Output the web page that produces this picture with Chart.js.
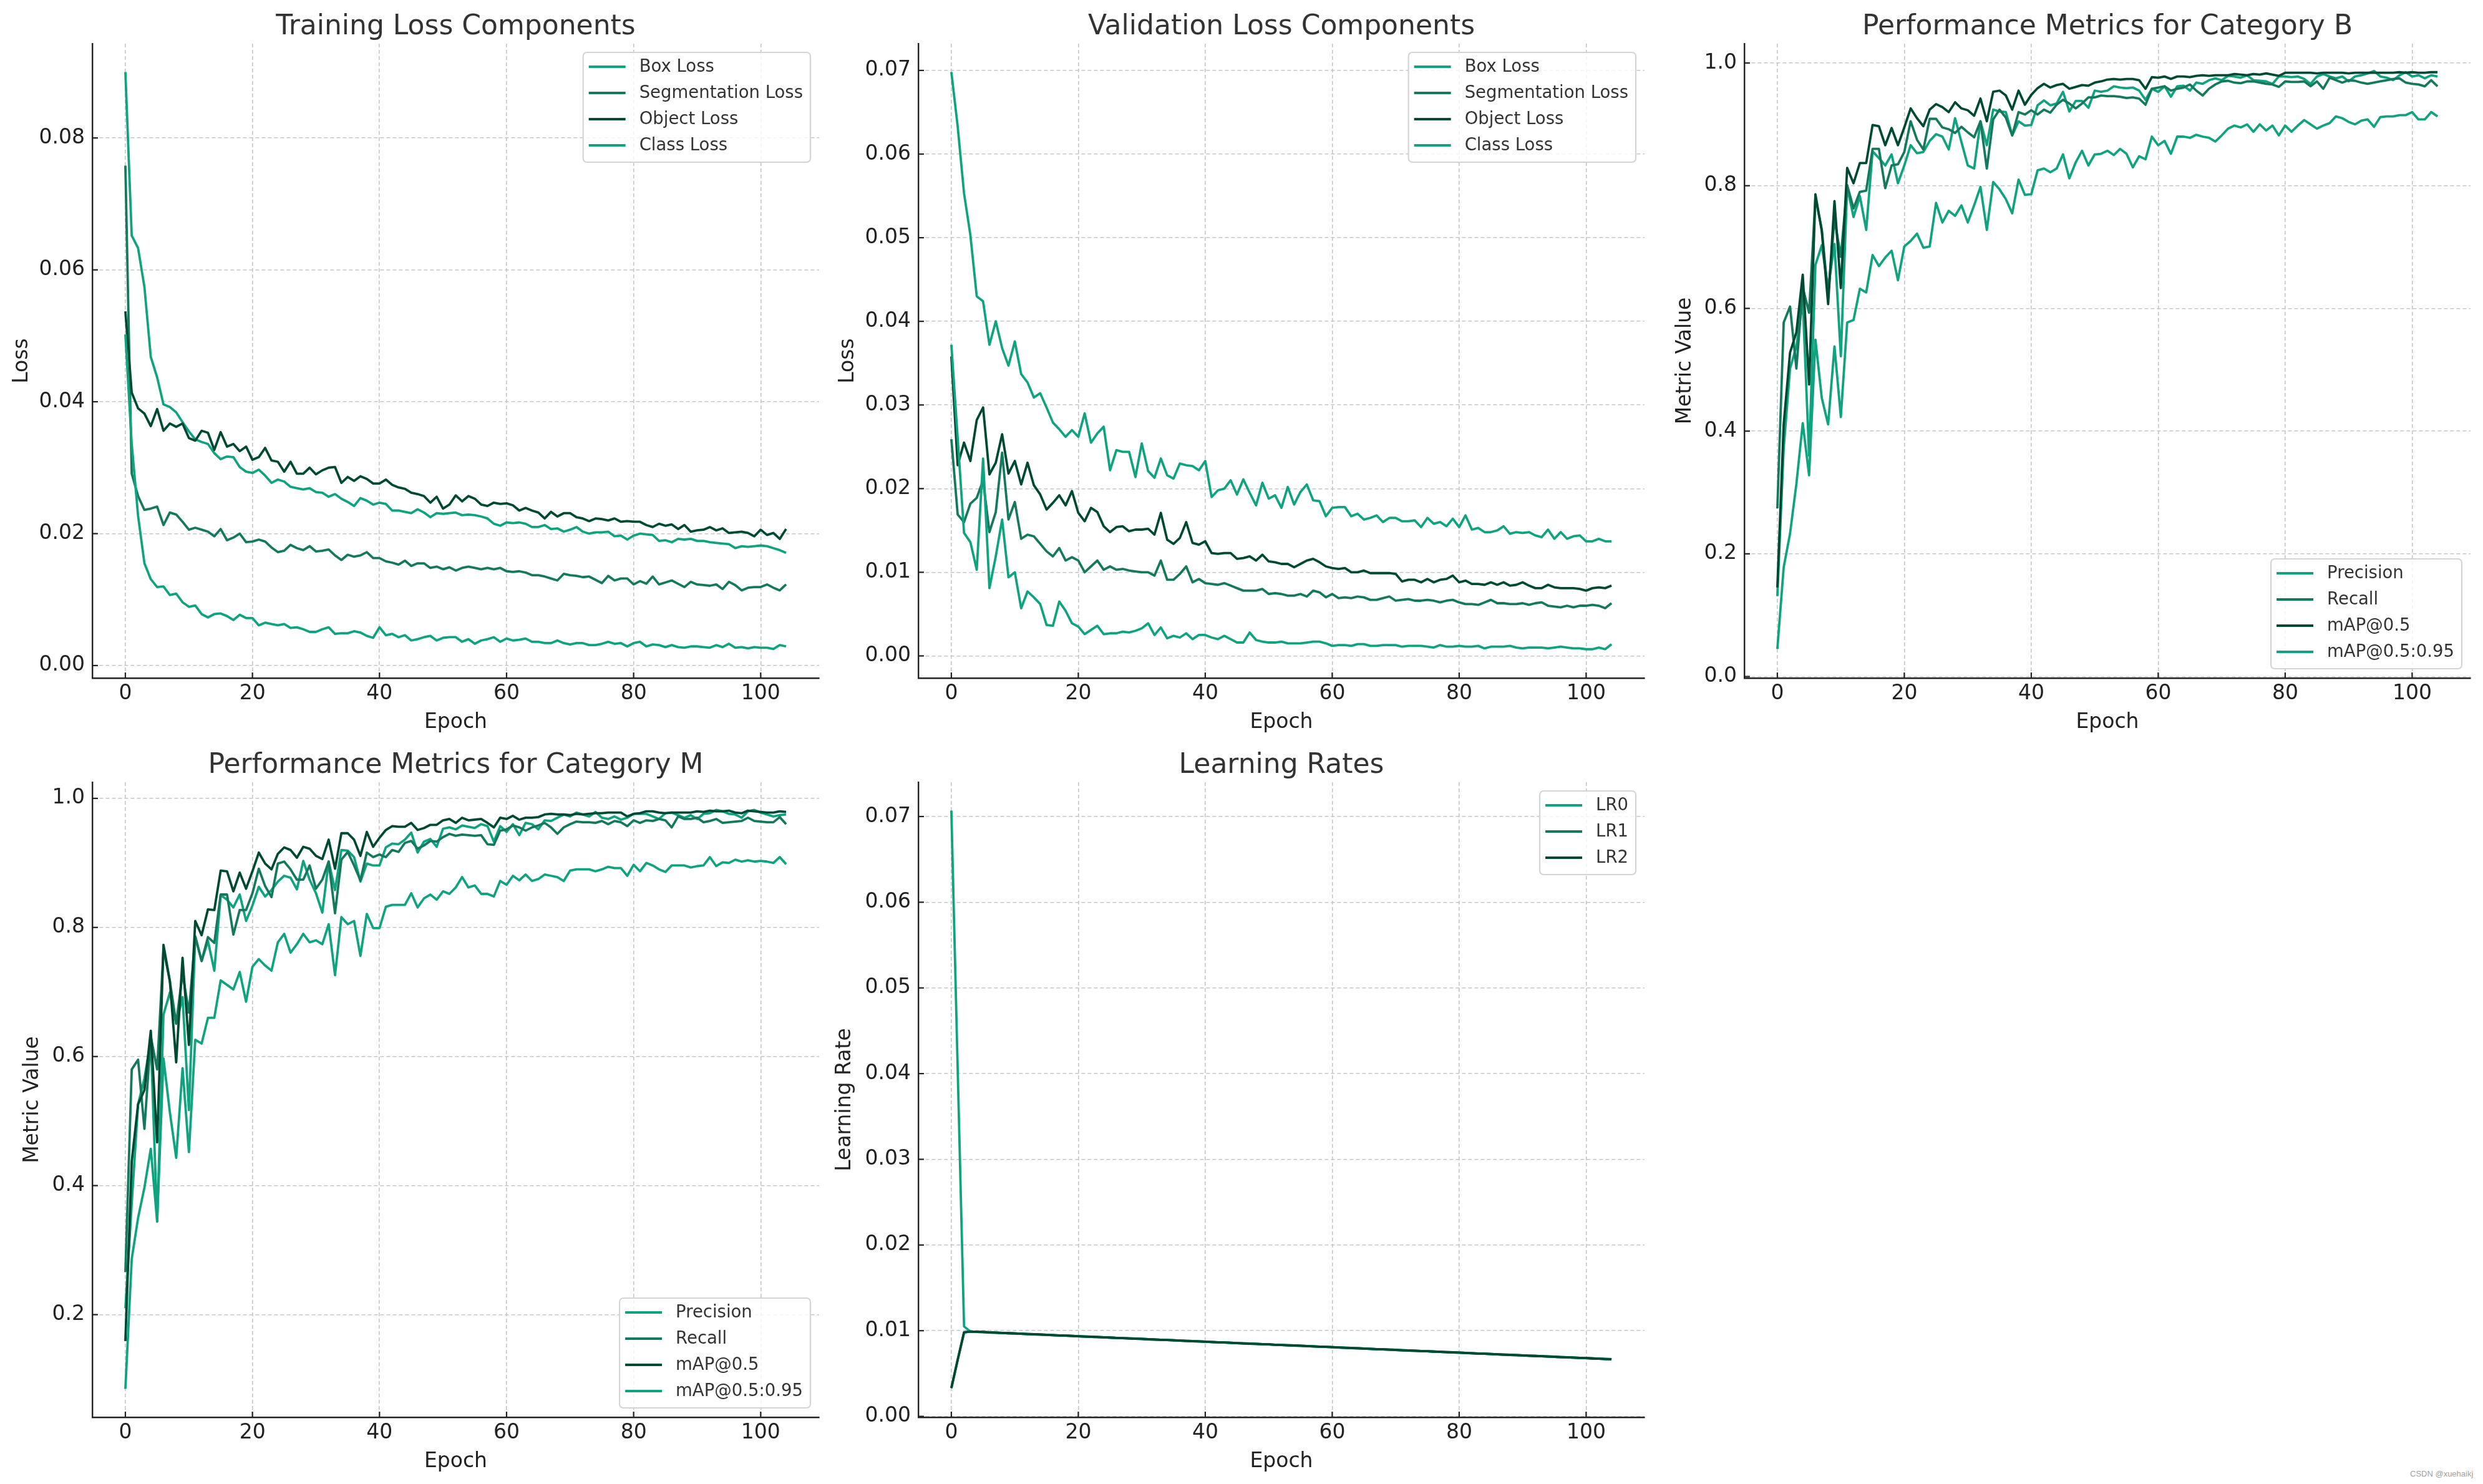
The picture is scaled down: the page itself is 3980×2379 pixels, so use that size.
<!DOCTYPE html>
<html lang="en">
<head>
<meta charset="UTF-8">
<title>Training results</title>
<script src="https://cdn.jsdelivr.net/npm/chart.js"></script>
<style>
  html, body { margin: 0; padding: 0; background: #fff; }
  body { width: 3980px; height: 2379px; position: relative; overflow: hidden; }
  canvas { position: absolute; }
  #mark { position: absolute; left: 3863px; top: 2355px; font: 13px "Liberation Sans", Arial, sans-serif; color: #a0a0a0; }
</style>
</head>
<body>
<canvas id="trainLoss"></canvas>
<canvas id="valLoss"></canvas>
<canvas id="catB"></canvas>
<canvas id="catM"></canvas>
<canvas id="lrChart"></canvas>
<div id="mark">CSDN @xuehaikj</div>
<script>
// epochs 0..104
const epochs = Array.from({length: 105}, (_, i) => i);
const xTicks = [0, 20, 40, 60, 80, 100];
const lossTicks = [0, 0.02, 0.04, 0.06, 0.08];
const valTicks = [0, 0.01, 0.02, 0.03, 0.04, 0.05, 0.06, 0.07];
const metricTicksB = [0, 0.2, 0.4, 0.6, 0.8, 1.0];
const metricTicksM = [0.2, 0.4, 0.6, 0.8, 1.0];
const lrTicks = [0, 0.01, 0.02, 0.03, 0.04, 0.05, 0.06, 0.07];

const lossNames = ['Box Loss', 'Segmentation Loss', 'Object Loss', 'Class Loss'];
const metricNames = ['Precision', 'Recall', 'mAP@0.5', 'mAP@0.5:0.95'];
const lrNames = ['LR0', 'LR1', 'LR2'];

// training losses
const trainBox = [
  0.0900, 0.0652, 0.0633, 0.0574, 0.0468, 0.0437, 0.0396, 0.0392, 0.0384, 0.0369,
  0.0355, 0.0343, 0.0339, 0.0336, 0.0322, 0.0313, 0.0317, 0.0316, 0.0301, 0.0294,
  0.0292, 0.0297, 0.0288, 0.0277, 0.0282, 0.0279, 0.0271, 0.0269, 0.0267, 0.0269,
  0.0263, 0.0262, 0.0256, 0.0260, 0.0253, 0.0248, 0.0242, 0.0254, 0.0250, 0.0244,
  0.0247, 0.0245, 0.0235, 0.0235, 0.0233, 0.0231, 0.0237, 0.0232, 0.0225, 0.0231,
  0.0230, 0.0231, 0.0232, 0.0228, 0.0229, 0.0228, 0.0226, 0.0223, 0.0215, 0.0212,
  0.0217, 0.0216, 0.0217, 0.0215, 0.0210, 0.0210, 0.0213, 0.0207, 0.0208, 0.0203,
  0.0206, 0.0210, 0.0203, 0.0200, 0.0202, 0.0202, 0.0203, 0.0196, 0.0197, 0.0191,
  0.0197, 0.0200, 0.0199, 0.0198, 0.0189, 0.0190, 0.0187, 0.0192, 0.0191, 0.0192,
  0.0189, 0.0189, 0.0187, 0.0186, 0.0185, 0.0184, 0.0178, 0.0181, 0.0180, 0.0181,
  0.0182, 0.0181, 0.0178, 0.0175, 0.0171
];
const trainSeg = [
  0.0758, 0.0291, 0.0257, 0.0236, 0.0238, 0.0241, 0.0213, 0.0232, 0.0229, 0.0218,
  0.0206, 0.0209, 0.0206, 0.0203, 0.0196, 0.0207, 0.0190, 0.0194, 0.0200, 0.0187,
  0.0188, 0.0191, 0.0188, 0.0179, 0.0172, 0.0174, 0.0183, 0.0178, 0.0175, 0.0181,
  0.0173, 0.0174, 0.0176, 0.0167, 0.0160, 0.0168, 0.0165, 0.0167, 0.0172, 0.0163,
  0.0163, 0.0158, 0.0156, 0.0153, 0.0159, 0.0151, 0.0155, 0.0155, 0.0148, 0.0150,
  0.0146, 0.0149, 0.0144, 0.0148, 0.0150, 0.0148, 0.0146, 0.0148, 0.0146, 0.0148,
  0.0143, 0.0142, 0.0143, 0.0141, 0.0137, 0.0137, 0.0135, 0.0132, 0.0129, 0.0139,
  0.0137, 0.0136, 0.0134, 0.0135, 0.0130, 0.0125, 0.0136, 0.0129, 0.0132, 0.0132,
  0.0123, 0.0128, 0.0124, 0.0135, 0.0123, 0.0126, 0.0129, 0.0124, 0.0119, 0.0127,
  0.0123, 0.0122, 0.0121, 0.0123, 0.0116, 0.0127, 0.0122, 0.0114, 0.0118, 0.0119,
  0.0119, 0.0123, 0.0118, 0.0114, 0.0123
];
const trainObj = [
  0.0537, 0.0414, 0.0390, 0.0382, 0.0363, 0.0389, 0.0356, 0.0367, 0.0362, 0.0367,
  0.0345, 0.0341, 0.0356, 0.0353, 0.0327, 0.0354, 0.0332, 0.0336, 0.0325, 0.0332,
  0.0312, 0.0316, 0.0330, 0.0311, 0.0309, 0.0294, 0.0309, 0.0291, 0.0291, 0.0300,
  0.0290, 0.0296, 0.0300, 0.0301, 0.0277, 0.0286, 0.0280, 0.0287, 0.0283, 0.0276,
  0.0276, 0.0282, 0.0274, 0.0270, 0.0268, 0.0262, 0.0260, 0.0257, 0.0247, 0.0256,
  0.0238, 0.0244, 0.0258, 0.0249, 0.0257, 0.0253, 0.0244, 0.0242, 0.0247, 0.0245,
  0.0246, 0.0243, 0.0235, 0.0239, 0.0235, 0.0232, 0.0223, 0.0233, 0.0226, 0.0231,
  0.0231, 0.0225, 0.0223, 0.0219, 0.0223, 0.0222, 0.0220, 0.0223, 0.0218, 0.0219,
  0.0218, 0.0218, 0.0213, 0.0210, 0.0215, 0.0212, 0.0214, 0.0207, 0.0213, 0.0203,
  0.0205, 0.0206, 0.0210, 0.0205, 0.0208, 0.0201, 0.0202, 0.0203, 0.0201, 0.0196,
  0.0206, 0.0198, 0.0201, 0.0192, 0.0207
];
const trainCls = [
  0.0502, 0.0336, 0.0227, 0.0155, 0.0131, 0.0119, 0.0120, 0.0107, 0.0109, 0.0096,
  0.0089, 0.0091, 0.0078, 0.0073, 0.0078, 0.0079, 0.0075, 0.0069, 0.0077, 0.0072,
  0.0072, 0.0061, 0.0065, 0.0063, 0.0061, 0.0063, 0.0057, 0.0058, 0.0055, 0.0051,
  0.0051, 0.0055, 0.0058, 0.0048, 0.0049, 0.0049, 0.0052, 0.0050, 0.0045, 0.0042,
  0.0058, 0.0046, 0.0048, 0.0043, 0.0046, 0.0038, 0.0040, 0.0043, 0.0045, 0.0038,
  0.0042, 0.0043, 0.0043, 0.0036, 0.0040, 0.0033, 0.0038, 0.0040, 0.0043, 0.0036,
  0.0041, 0.0038, 0.0039, 0.0041, 0.0036, 0.0036, 0.0034, 0.0034, 0.0038, 0.0034,
  0.0032, 0.0034, 0.0034, 0.0031, 0.0031, 0.0033, 0.0036, 0.0033, 0.0034, 0.0029,
  0.0034, 0.0036, 0.0029, 0.0032, 0.0031, 0.0028, 0.0031, 0.0028, 0.0027, 0.0029,
  0.0029, 0.0028, 0.0027, 0.0031, 0.0028, 0.0033, 0.0027, 0.0028, 0.0026, 0.0028,
  0.0027, 0.0027, 0.0025, 0.0031, 0.0029
];

// validation losses
const valBox = [
  0.0698, 0.0633, 0.0553, 0.0503, 0.0430, 0.0424, 0.0372, 0.0400, 0.0368, 0.0347,
  0.0376, 0.0337, 0.0327, 0.0309, 0.0314, 0.0297, 0.0279, 0.0271, 0.0262, 0.0270,
  0.0262, 0.0290, 0.0255, 0.0266, 0.0274, 0.0222, 0.0246, 0.0244, 0.0244, 0.0214,
  0.0254, 0.0221, 0.0213, 0.0236, 0.0216, 0.0212, 0.0230, 0.0228, 0.0227, 0.0222,
  0.0233, 0.0190, 0.0198, 0.0200, 0.0210, 0.0193, 0.0211, 0.0195, 0.0180, 0.0207,
  0.0188, 0.0192, 0.0177, 0.0202, 0.0181, 0.0196, 0.0205, 0.0186, 0.0185, 0.0167,
  0.0177, 0.0178, 0.0178, 0.0167, 0.0170, 0.0163, 0.0165, 0.0168, 0.0160, 0.0165,
  0.0165, 0.0161, 0.0161, 0.0162, 0.0154, 0.0165, 0.0158, 0.0160, 0.0155, 0.0164,
  0.0154, 0.0168, 0.0151, 0.0153, 0.0148, 0.0148, 0.0150, 0.0155, 0.0146, 0.0148,
  0.0147, 0.0148, 0.0144, 0.0142, 0.0151, 0.0140, 0.0148, 0.0140, 0.0143, 0.0144,
  0.0137, 0.0137, 0.0140, 0.0137, 0.0137
];
const valSeg = [
  0.0259, 0.0169, 0.0160, 0.0182, 0.0189, 0.0210, 0.0148, 0.0172, 0.0243, 0.0163,
  0.0184, 0.0140, 0.0145, 0.0143, 0.0134, 0.0125, 0.0119, 0.0129, 0.0114, 0.0118,
  0.0114, 0.0100, 0.0107, 0.0114, 0.0103, 0.0107, 0.0103, 0.0104, 0.0102, 0.0101,
  0.0100, 0.0100, 0.0096, 0.0114, 0.0091, 0.0091, 0.0098, 0.0107, 0.0088, 0.0092,
  0.0087, 0.0086, 0.0085, 0.0087, 0.0084, 0.0081, 0.0078, 0.0078, 0.0078, 0.0080,
  0.0074, 0.0075, 0.0074, 0.0072, 0.0072, 0.0074, 0.0071, 0.0078, 0.0076, 0.0070,
  0.0074, 0.0069, 0.0070, 0.0069, 0.0071, 0.0070, 0.0067, 0.0067, 0.0069, 0.0071,
  0.0066, 0.0067, 0.0068, 0.0066, 0.0066, 0.0067, 0.0066, 0.0064, 0.0066, 0.0067,
  0.0064, 0.0062, 0.0062, 0.0061, 0.0064, 0.0067, 0.0063, 0.0063, 0.0062, 0.0062,
  0.0063, 0.0061, 0.0063, 0.0064, 0.0060, 0.0059, 0.0058, 0.0060, 0.0058, 0.0060,
  0.0060, 0.0061, 0.0060, 0.0057, 0.0063
];
const valObj = [
  0.0358, 0.0228, 0.0255, 0.0233, 0.0282, 0.0297, 0.0217, 0.0231, 0.0265, 0.0218,
  0.0233, 0.0205, 0.0231, 0.0204, 0.0193, 0.0175, 0.0183, 0.0192, 0.0180, 0.0197,
  0.0171, 0.0161, 0.0177, 0.0172, 0.0155, 0.0148, 0.0154, 0.0155, 0.0149, 0.0151,
  0.0151, 0.0152, 0.0145, 0.0171, 0.0139, 0.0134, 0.0141, 0.0160, 0.0135, 0.0133,
  0.0137, 0.0123, 0.0122, 0.0123, 0.0123, 0.0116, 0.0117, 0.0119, 0.0114, 0.0121,
  0.0113, 0.0112, 0.0110, 0.0110, 0.0106, 0.0110, 0.0114, 0.0116, 0.0112, 0.0107,
  0.0105, 0.0104, 0.0105, 0.0100, 0.0100, 0.0102, 0.0099, 0.0099, 0.0099, 0.0099,
  0.0098, 0.0089, 0.0091, 0.0091, 0.0088, 0.0092, 0.0088, 0.0091, 0.0092, 0.0096,
  0.0088, 0.0090, 0.0086, 0.0086, 0.0085, 0.0088, 0.0085, 0.0088, 0.0084, 0.0085,
  0.0088, 0.0084, 0.0081, 0.0081, 0.0085, 0.0082, 0.0081, 0.0081, 0.0081, 0.0080,
  0.0078, 0.0081, 0.0082, 0.0081, 0.0084
];
const valCls = [
  0.0372, 0.0260, 0.0147, 0.0136, 0.0103, 0.0236, 0.0081, 0.0119, 0.0163, 0.0094,
  0.0100, 0.0057, 0.0077, 0.0070, 0.0062, 0.0037, 0.0036, 0.0065, 0.0054, 0.0039,
  0.0035, 0.0026, 0.0031, 0.0036, 0.0026, 0.0027, 0.0027, 0.0029, 0.0028, 0.0030,
  0.0033, 0.0039, 0.0025, 0.0034, 0.0021, 0.0024, 0.0022, 0.0027, 0.0020, 0.0025,
  0.0025, 0.0022, 0.0020, 0.0024, 0.0020, 0.0016, 0.0016, 0.0028, 0.0019, 0.0017,
  0.0016, 0.0016, 0.0017, 0.0015, 0.0015, 0.0015, 0.0016, 0.0017, 0.0017, 0.0015,
  0.0012, 0.0013, 0.0013, 0.0012, 0.0014, 0.0014, 0.0012, 0.0012, 0.0013, 0.0013,
  0.0013, 0.0011, 0.0012, 0.0012, 0.0012, 0.0011, 0.0010, 0.0013, 0.0011, 0.0011,
  0.0012, 0.0011, 0.0011, 0.0012, 0.0009, 0.0011, 0.0011, 0.0011, 0.0012, 0.0010,
  0.0009, 0.0010, 0.0010, 0.0010, 0.0009, 0.0010, 0.0011, 0.0010, 0.0009, 0.0009,
  0.0008, 0.0008, 0.0010, 0.0008, 0.0014
];

// category B metrics
const bPrec = [
  0.131, 0.372, 0.502, 0.538, 0.613, 0.360, 0.671, 0.703, 0.633, 0.705,
  0.522, 0.798, 0.749, 0.783, 0.728, 0.856, 0.845, 0.833, 0.851, 0.804,
  0.833, 0.866, 0.853, 0.855, 0.873, 0.884, 0.880, 0.859, 0.910, 0.871,
  0.833, 0.828, 0.905, 0.866, 0.924, 0.921, 0.920, 0.882, 0.905, 0.898,
  0.899, 0.931, 0.939, 0.931, 0.934, 0.953, 0.921, 0.938, 0.938, 0.927,
  0.955, 0.953, 0.955, 0.962, 0.960, 0.959, 0.960, 0.955, 0.940, 0.958,
  0.953, 0.962, 0.945, 0.962, 0.963, 0.955, 0.968, 0.966, 0.972, 0.975,
  0.972, 0.979, 0.978, 0.976, 0.980, 0.972, 0.971, 0.970, 0.966, 0.978,
  0.978, 0.977, 0.978, 0.974, 0.966, 0.978, 0.982, 0.978, 0.975, 0.978,
  0.970, 0.978, 0.980, 0.983, 0.987, 0.978, 0.976, 0.972, 0.980, 0.985,
  0.978, 0.980, 0.975, 0.980, 0.978
];
const bRec = [
  0.274, 0.577, 0.603, 0.502, 0.634, 0.593, 0.781, 0.729, 0.620, 0.746,
  0.684, 0.801, 0.763, 0.790, 0.792, 0.860, 0.860, 0.796, 0.833, 0.835,
  0.855, 0.905, 0.875, 0.859, 0.909, 0.909, 0.895, 0.892, 0.886, 0.896,
  0.887, 0.879, 0.905, 0.828, 0.908, 0.924, 0.911, 0.882, 0.920, 0.916,
  0.923, 0.916, 0.924, 0.919, 0.932, 0.940, 0.934, 0.926, 0.934, 0.944,
  0.944, 0.947, 0.946, 0.946, 0.945, 0.943, 0.944, 0.942, 0.932, 0.958,
  0.960, 0.962, 0.955, 0.958, 0.960, 0.965, 0.955, 0.947, 0.958, 0.965,
  0.970, 0.971, 0.968, 0.967, 0.970, 0.970, 0.968, 0.966, 0.965, 0.961,
  0.970, 0.969, 0.969, 0.970, 0.962, 0.970, 0.958, 0.976, 0.972, 0.968,
  0.972, 0.971, 0.968, 0.966, 0.968, 0.970, 0.972, 0.974, 0.975, 0.968,
  0.966, 0.965, 0.962, 0.972, 0.962
];
const bMap50 = [
  0.145, 0.411, 0.528, 0.561, 0.655, 0.476, 0.786, 0.726, 0.607, 0.775,
  0.633, 0.829, 0.804, 0.837, 0.837, 0.899, 0.897, 0.866, 0.894, 0.866,
  0.895, 0.926, 0.910, 0.897, 0.924, 0.933, 0.928, 0.920, 0.936, 0.926,
  0.923, 0.914, 0.942, 0.905, 0.953, 0.955, 0.947, 0.924, 0.955, 0.932,
  0.948, 0.959, 0.966, 0.960, 0.964, 0.966, 0.958, 0.961, 0.964, 0.963,
  0.968, 0.970, 0.973, 0.974, 0.973, 0.974, 0.974, 0.972, 0.958, 0.977,
  0.976, 0.978, 0.974, 0.978, 0.978, 0.977, 0.979, 0.980, 0.979, 0.980,
  0.980, 0.980, 0.982, 0.981, 0.980, 0.982, 0.981, 0.983, 0.981, 0.979,
  0.984, 0.984, 0.984, 0.984, 0.984, 0.983, 0.984, 0.984, 0.984, 0.984,
  0.983, 0.984, 0.984, 0.984, 0.984, 0.984, 0.984, 0.984, 0.985, 0.984,
  0.985, 0.984, 0.984, 0.985, 0.985
];
const bMap95 = [
  0.045, 0.178, 0.233, 0.314, 0.413, 0.328, 0.549, 0.454, 0.411, 0.538,
  0.423, 0.577, 0.581, 0.632, 0.626, 0.687, 0.669, 0.683, 0.694, 0.646,
  0.701, 0.710, 0.722, 0.699, 0.701, 0.772, 0.740, 0.759, 0.751, 0.768,
  0.740, 0.768, 0.798, 0.728, 0.806, 0.794, 0.778, 0.755, 0.810, 0.785,
  0.786, 0.825, 0.828, 0.822, 0.828, 0.851, 0.812, 0.838, 0.857, 0.833,
  0.851, 0.852, 0.857, 0.850, 0.860, 0.852, 0.830, 0.848, 0.843, 0.880,
  0.866, 0.873, 0.852, 0.880, 0.880, 0.878, 0.883, 0.880, 0.878, 0.872,
  0.882, 0.893, 0.898, 0.895, 0.900, 0.888, 0.900, 0.890, 0.898, 0.882,
  0.898, 0.888, 0.898, 0.907, 0.900, 0.893, 0.898, 0.902, 0.913, 0.910,
  0.904, 0.900, 0.906, 0.908, 0.896, 0.912, 0.913, 0.913, 0.915, 0.915,
  0.920, 0.908, 0.908, 0.920, 0.913
];

// category M metrics
const mPrec = [
  0.210, 0.372, 0.526, 0.566, 0.625, 0.344, 0.665, 0.699, 0.651, 0.692,
  0.517, 0.786, 0.748, 0.779, 0.733, 0.850, 0.843, 0.831, 0.851, 0.810,
  0.834, 0.863, 0.848, 0.858, 0.871, 0.880, 0.877, 0.859, 0.903, 0.874,
  0.853, 0.823, 0.902, 0.858, 0.920, 0.919, 0.909, 0.871, 0.899, 0.896,
  0.896, 0.924, 0.930, 0.929, 0.936, 0.947, 0.916, 0.933, 0.937, 0.925,
  0.953, 0.955, 0.952, 0.958, 0.956, 0.954, 0.960, 0.957, 0.933, 0.957,
  0.948, 0.960, 0.943, 0.962, 0.960, 0.952, 0.966, 0.965, 0.970, 0.975,
  0.972, 0.978, 0.975, 0.972, 0.979, 0.970, 0.968, 0.972, 0.967, 0.970,
  0.976, 0.976, 0.976, 0.972, 0.968, 0.977, 0.978, 0.974, 0.970, 0.974,
  0.968, 0.976, 0.977, 0.982, 0.980, 0.976, 0.975, 0.970, 0.980, 0.982,
  0.978, 0.975, 0.972, 0.974, 0.975
];
const mRec = [
  0.266, 0.580, 0.595, 0.488, 0.631, 0.580, 0.766, 0.717, 0.651, 0.729,
  0.668, 0.786, 0.748, 0.785, 0.776, 0.851, 0.851, 0.789, 0.827, 0.827,
  0.853, 0.891, 0.864, 0.847, 0.899, 0.902, 0.890, 0.874, 0.874, 0.896,
  0.860, 0.874, 0.902, 0.822, 0.905, 0.917, 0.896, 0.873, 0.916, 0.909,
  0.913, 0.909, 0.920, 0.917, 0.931, 0.934, 0.922, 0.927, 0.934, 0.933,
  0.940, 0.945, 0.942, 0.944, 0.943, 0.942, 0.943, 0.929, 0.928, 0.950,
  0.952, 0.958, 0.955, 0.950, 0.955, 0.958, 0.962, 0.955, 0.945, 0.955,
  0.960, 0.964, 0.963, 0.963, 0.962, 0.965, 0.960, 0.965, 0.963, 0.957,
  0.966, 0.962, 0.966, 0.965, 0.968, 0.966, 0.955, 0.972, 0.968, 0.968,
  0.970, 0.963, 0.965, 0.968, 0.962, 0.963, 0.964, 0.965, 0.970, 0.965,
  0.964, 0.963, 0.963, 0.971, 0.960
];
const mMap50 = [
  0.159, 0.437, 0.526, 0.548, 0.640, 0.467, 0.773, 0.717, 0.591, 0.753,
  0.618, 0.810, 0.788, 0.828, 0.827, 0.888, 0.887, 0.856, 0.885, 0.860,
  0.887, 0.916, 0.899, 0.890, 0.914, 0.924, 0.920, 0.908, 0.925, 0.922,
  0.911, 0.906, 0.936, 0.891, 0.946, 0.946, 0.936, 0.911, 0.948, 0.925,
  0.939, 0.951, 0.957, 0.956, 0.956, 0.962, 0.951, 0.954, 0.959, 0.959,
  0.966, 0.968, 0.962, 0.970, 0.966, 0.967, 0.968, 0.962, 0.955, 0.970,
  0.968, 0.973, 0.967, 0.970, 0.970, 0.971, 0.975, 0.976, 0.975, 0.975,
  0.974, 0.976, 0.975, 0.976, 0.977, 0.977, 0.978, 0.978, 0.978, 0.972,
  0.976, 0.977, 0.980, 0.980, 0.978, 0.977, 0.978, 0.978, 0.978, 0.978,
  0.980, 0.979, 0.981, 0.980, 0.980, 0.981, 0.978, 0.977, 0.981, 0.980,
  0.979, 0.978, 0.978, 0.980, 0.979
];
const mMap95 = [
  0.085, 0.286, 0.350, 0.397, 0.457, 0.345, 0.597, 0.514, 0.443, 0.582,
  0.452, 0.626, 0.620, 0.660, 0.660, 0.718, 0.711, 0.704, 0.731, 0.685,
  0.739, 0.751, 0.741, 0.733, 0.777, 0.790, 0.761, 0.774, 0.790, 0.777,
  0.780, 0.774, 0.805, 0.726, 0.816, 0.805, 0.810, 0.756, 0.821, 0.799,
  0.799, 0.832, 0.835, 0.835, 0.835, 0.853, 0.831, 0.845, 0.851, 0.843,
  0.856, 0.852, 0.862, 0.878, 0.862, 0.865, 0.852, 0.852, 0.848, 0.872,
  0.866, 0.880, 0.873, 0.882, 0.872, 0.875, 0.882, 0.880, 0.878, 0.872,
  0.888, 0.890, 0.890, 0.890, 0.887, 0.890, 0.894, 0.892, 0.892, 0.880,
  0.897, 0.887, 0.900, 0.896, 0.890, 0.886, 0.896, 0.896, 0.896, 0.893,
  0.895, 0.896, 0.909, 0.895, 0.901, 0.900, 0.905, 0.902, 0.904, 0.902,
  0.903, 0.902, 0.900, 0.909, 0.898
];

// learning rates (linear decay after warmup, epochs 3..104)
const lrDecay = [
  0.00990, 0.00987, 0.00984, 0.00980, 0.00977, 0.00974, 0.00971,
  0.00968, 0.00964, 0.00961, 0.00958, 0.00955, 0.00952, 0.00948, 0.00945, 0.00942, 0.00939,
  0.00936, 0.00932, 0.00929, 0.00926, 0.00923, 0.00920, 0.00916, 0.00913, 0.00910, 0.00907,
  0.00904, 0.00900, 0.00897, 0.00894, 0.00891, 0.00888, 0.00884, 0.00881, 0.00878, 0.00875,
  0.00872, 0.00868, 0.00865, 0.00862, 0.00859, 0.00856, 0.00852, 0.00849, 0.00846, 0.00843,
  0.00840, 0.00836, 0.00833, 0.00830, 0.00827, 0.00824, 0.00820, 0.00817, 0.00814, 0.00811,
  0.00808, 0.00804, 0.00801, 0.00798, 0.00795, 0.00792, 0.00788, 0.00785, 0.00782, 0.00779,
  0.00776, 0.00772, 0.00769, 0.00766, 0.00763, 0.00760, 0.00756, 0.00753, 0.00750, 0.00747,
  0.00744, 0.00740, 0.00737, 0.00734, 0.00731, 0.00728, 0.00724, 0.00721, 0.00718, 0.00715,
  0.00712, 0.00708, 0.00705, 0.00702, 0.00699, 0.00696, 0.00692, 0.00689, 0.00686, 0.00683,
  0.00680, 0.00676, 0.00673, 0.00670, 0.00667
];
const lr0 = [0.0707, 0.0405, 0.0105, ...lrDecay];
const lr1 = [0.0033, 0.0066, 0.0098, ...lrDecay];
const lr2 = [0.0033, 0.0066, 0.0098, ...lrDecay];

const colors = ['#10a37f', '#14795d', '#004a33', '#10a37f'];
const gridColor = '#c6c6c6';
const inkColor = '#222222';

Chart.defaults.font.family = '"DejaVu Sans", sans-serif';
Chart.defaults.color = inkColor;

// matplotlib-like legend box inside the axes
const frameLegend = {
  id: 'frameLegend',
  afterDraw(chart, args, opts) {
    const {ctx, chartArea: a} = chart;
    const sets = chart.data.datasets;
    ctx.save();
    ctx.font = '27.5px "DejaVu Sans"';
    const textW = Math.max(...sets.map(d => ctx.measureText(d.label).width));
    const w = 90 + textW + 12;
    const h = 23 + (sets.length - 1) * 42 + 27;
    const x = a.right - 14 - w;
    const y = opts.corner === 'se' ? a.bottom - 15 - h : a.top + 14;
    ctx.beginPath();
    if (ctx.roundRect) ctx.roundRect(x, y, w, h, 6); else ctx.rect(x, y, w, h);
    ctx.fillStyle = 'rgba(255,255,255,0.8)';
    ctx.fill();
    ctx.lineWidth = 2.2;
    ctx.strokeStyle = '#d4d4d4';
    ctx.stroke();
    sets.forEach((d, i) => {
      const cy = y + 23 + i * 42;
      ctx.beginPath();
      ctx.moveTo(x + 9, cy);
      ctx.lineTo(x + 68, cy);
      ctx.strokeStyle = d.borderColor;
      ctx.lineWidth = d.borderWidth;
      ctx.stroke();
      ctx.fillStyle = '#333333';
      ctx.textBaseline = 'middle';
      ctx.fillText(d.label, x + 90, cy + 1);
    });
    ctx.restore();
  }
};

// ticks pointing into the plot, like the reference
const innerTicks = {
  id: 'innerTicks',
  afterDatasetsDraw(chart) {
    const {ctx, chartArea: a, scales: {x, y}} = chart;
    ctx.save();
    ctx.strokeStyle = inkColor;
    ctx.lineWidth = 2.2;
    x.ticks.forEach(t => {
      const px = x.getPixelForValue(t.value);
      ctx.beginPath(); ctx.moveTo(px, a.bottom); ctx.lineTo(px, a.bottom - 9); ctx.stroke();
    });
    y.ticks.forEach(t => {
      const py = y.getPixelForValue(t.value);
      ctx.beginPath(); ctx.moveTo(a.left, py); ctx.lineTo(a.left + 9, py); ctx.stroke();
    });
    ctx.restore();
  }
};

const Y_W = 145, TOP_H = 70, X_H = 110, RIGHT_PAD = 10;

function makeChart(id, area, opt) {
  const canvas = document.getElementById(id);
  canvas.width = area.right - area.left + Y_W + RIGHT_PAD;
  canvas.height = area.bottom - area.top + TOP_H + X_H;
  canvas.style.left = (area.left - Y_W) + 'px';
  canvas.style.top = (area.top - TOP_H) + 'px';

  const datasets = opt.series.map((vals, i) => ({
    label: opt.names[i],
    data: vals.map((v, j) => ({x: epochs[j], y: v})),
    borderColor: colors[i],
    backgroundColor: colors[i],
    borderWidth: 3.8,
    pointRadius: 0,
    tension: 0,
    fill: false,
    borderJoinStyle: 'round',
    order: 10 - i
  }));

  return new Chart(canvas, {
    type: 'line',
    data: {datasets},
    options: {
      responsive: false,
      animation: false,
      devicePixelRatio: 1,
      layout: {padding: {left: 0, right: RIGHT_PAD, top: 0, bottom: 0}},
      scales: {
        x: {
          type: 'linear',
          min: -5.2, max: 109.2,
          afterBuildTicks: s => { s.ticks = xTicks.map(v => ({value: v})); },
          afterFit: s => { s.height = X_H; },
          grid: {color: gridColor, lineWidth: 1.6, drawTicks: false},
          border: {color: inkColor, width: 2.4, dash: [6, 4]},
          ticks: {padding: 6, maxRotation: 0, autoSkip: false, color: inkColor, font: {size: 33}, callback: v => String(v)},
          title: {display: true, text: 'Epoch', color: inkColor, font: {size: 33}, padding: {top: 0, bottom: 19}}
        },
        y: {
          type: 'linear',
          min: opt.yMin, max: opt.yMax,
          afterBuildTicks: s => { s.ticks = opt.yTicks.map(v => ({value: v})); },
          afterFit: s => { s.width = Y_W; },
          grid: {color: gridColor, lineWidth: 1.6, drawTicks: false},
          border: {color: inkColor, width: 2.4, dash: [6, 4]},
          ticks: {padding: 12, autoSkip: false, color: inkColor, font: {size: 33}, callback: v => v.toFixed(opt.dec)},
          title: {display: true, text: opt.yTitle, color: inkColor, font: {size: 33}, padding: {top: opt.yTitlePad, bottom: 0}}
        }
      },
      plugins: {
        legend: {display: false},
        tooltip: {enabled: false},
        title: {
          display: true, fullSize: false,
          text: opt.title, color: '#333333',
          font: {size: 44, weight: 'normal', lineHeight: 1.2},
          padding: {top: 17, bottom: 0.2}
        },
        frameLegend: {corner: opt.corner}
      }
    },
    plugins: [frameLegend, innerTicks]
  });
}

makeChart('trainLoss', {left: 148, right: 1313, top: 70, bottom: 1087}, {
  title: 'Training Loss Components', yTitle: 'Loss', yTitlePad: 13,
  names: lossNames, series: [trainBox, trainSeg, trainObj, trainCls],
  yMin: -0.0019, yMax: 0.0943, yTicks: lossTicks, dec: 2, corner: 'ne'
});

makeChart('valLoss', {left: 1472, right: 2636, top: 70, bottom: 1087}, {
  title: 'Validation Loss Components', yTitle: 'Loss', yTitlePad: 13,
  names: lossNames, series: [valBox, valSeg, valObj, valCls],
  yMin: -0.00265, yMax: 0.0732, yTicks: valTicks, dec: 2, corner: 'ne'
});

makeChart('catB', {left: 2796, right: 3960, top: 70, bottom: 1087}, {
  title: 'Performance Metrics for Category B', yTitle: 'Metric Value', yTitlePad: 31,
  names: metricNames, series: [bPrec, bRec, bMap50, bMap95],
  yMin: -0.0025, yMax: 1.0315, yTicks: metricTicksB, dec: 1, corner: 'se'
});

makeChart('catM', {left: 148, right: 1313, top: 1254, bottom: 2272}, {
  title: 'Performance Metrics for Category M', yTitle: 'Metric Value', yTitlePad: 30,
  names: metricNames, series: [mPrec, mRec, mMap50, mMap95],
  yMin: 0.041, yMax: 1.025, yTicks: metricTicksM, dec: 1, corner: 'se'
});

makeChart('lrChart', {left: 1472, right: 2636, top: 1254, bottom: 2272}, {
  title: 'Learning Rates', yTitle: 'Learning Rate', yTitlePad: 8,
  names: lrNames, series: [lr0, lr1, lr2],
  yMin: -0.0001, yMax: 0.0740, yTicks: lrTicks, dec: 2, corner: 'ne'
});
</script>
</body>
</html>
